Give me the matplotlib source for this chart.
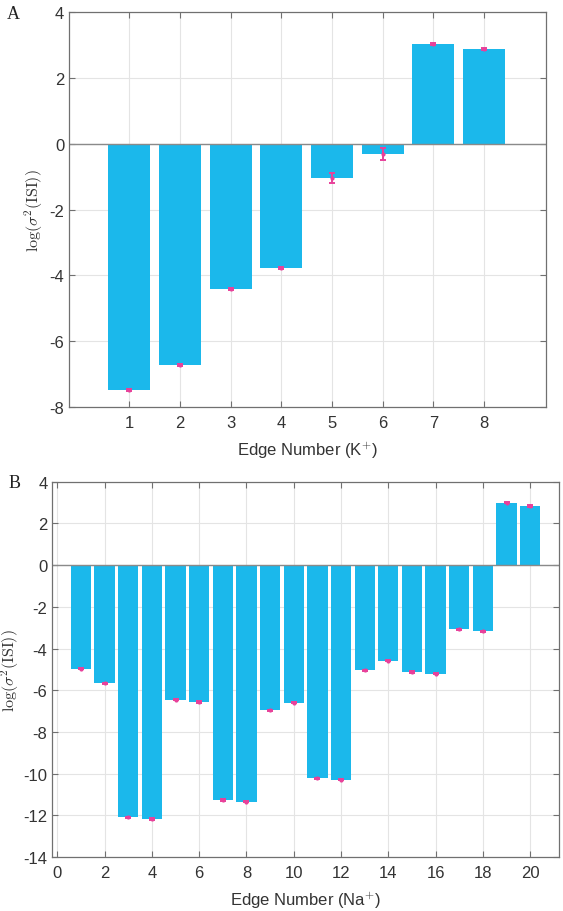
import matplotlib.pyplot as plt
import numpy as np

plt.rcParams['font.family'] = ['Liberation Sans', 'DejaVu Sans']
plt.rcParams['mathtext.fontset'] = 'cm'
plt.rcParams['axes.unicode_minus'] = False

# Panel A: K+ edges
edges_k = [1, 2, 3, 4, 5, 6, 7, 8]
vals_k = [-7.48, -6.73, -4.40, -3.78, -1.05, -0.31, 3.03, 2.89]
err_k = [0.03, 0.03, 0.03, 0.03, 0.15, 0.17, 0.03, 0.03]

# Panel B: Na+ edges
edges_na = list(range(1, 21))
vals_na = [-4.96, -5.66, -12.10, -12.18, -6.45, -6.56, -11.27, -11.34, -6.96, -6.59,
           -10.22, -10.30, -5.05, -4.58, -5.13, -5.21, -3.07, -3.17, 2.99, 2.83]
err_na = [0.03] * 20

bar_color = '#1bb8eb'
err_color = '#e8419a'
frame_color = '#707070'
text_color = '#333333'


def style_axes(ax):
    for s in ax.spines.values():
        s.set_color(frame_color)
        s.set_linewidth(0.9)
    ax.tick_params(direction='in', top=True, right=True, color=frame_color,
                   labelcolor=text_color, labelsize=12, length=4, width=0.8)
    ax.tick_params(axis='x', pad=6)
    ax.grid(True, color='#e4e4e4', linewidth=0.8)
    ax.set_axisbelow(True)
    ax.axhline(0, color='#8a8a8a', linewidth=1.0, zorder=2)


fig = plt.figure(figsize=(5.63, 9.12), dpi=100)

# --- A ---
ax1 = fig.add_axes([0.1226, 0.5526, 0.847, 0.4331])
ax1.bar(edges_k, vals_k, width=0.83, color=bar_color, zorder=1.5)
ax1.errorbar(edges_k, vals_k, yerr=err_k, fmt='.', color=err_color, markersize=4,
             ecolor=err_color, elinewidth=1.4, capsize=2.5, capthick=1.4, zorder=3)
ax1.set_xlim(-0.19, 9.22)
ax1.set_ylim(-8, 4)
ax1.set_xticks(edges_k)
ax1.set_yticks(np.arange(-8, 5, 2))
style_axes(ax1)
ax1.set_xlabel(r'Edge Number (K$^{\mathsf{+}}$)', fontsize=12, color=text_color, labelpad=6)
ax1.set_ylabel(r'$\log(\sigma^2(\mathrm{ISI}))$', fontsize=11.5, color=text_color)
ax1.yaxis.set_label_coords(-0.05, 0.5)
fig.text(0.012, 0.984, 'A', fontsize=13, family='Liberation Serif', color='#222222',
         ha='left', va='center')

# --- B ---
ax2 = fig.add_axes([0.0929, 0.0592, 0.9005, 0.4115])
ax2.bar(edges_na, vals_na, width=0.86, color=bar_color, zorder=1.5)
ax2.errorbar(edges_na, vals_na, yerr=err_na, fmt='.', color=err_color, markersize=4,
             ecolor=err_color, elinewidth=1.4, capsize=2.5, capthick=1.4, zorder=3)
ax2.set_xlim(-0.21, 21.23)
ax2.set_ylim(-14, 4)
ax2.set_xticks(np.arange(0, 21, 2))
ax2.set_yticks(np.arange(-14, 5, 2))
style_axes(ax2)
ax2.set_xlabel(r'Edge Number (Na$^{\mathsf{+}}$)', fontsize=12, color=text_color, labelpad=6)
ax2.set_ylabel(r'$\log(\sigma^2(\mathrm{ISI}))$', fontsize=11.5, color=text_color)
ax2.yaxis.set_label_coords(-0.062, 0.5)
fig.text(0.016, 0.470, 'B', fontsize=13, family='Liberation Serif', color='#222222',
         ha='left', va='center')

fig.savefig('out.png', dpi=100)
